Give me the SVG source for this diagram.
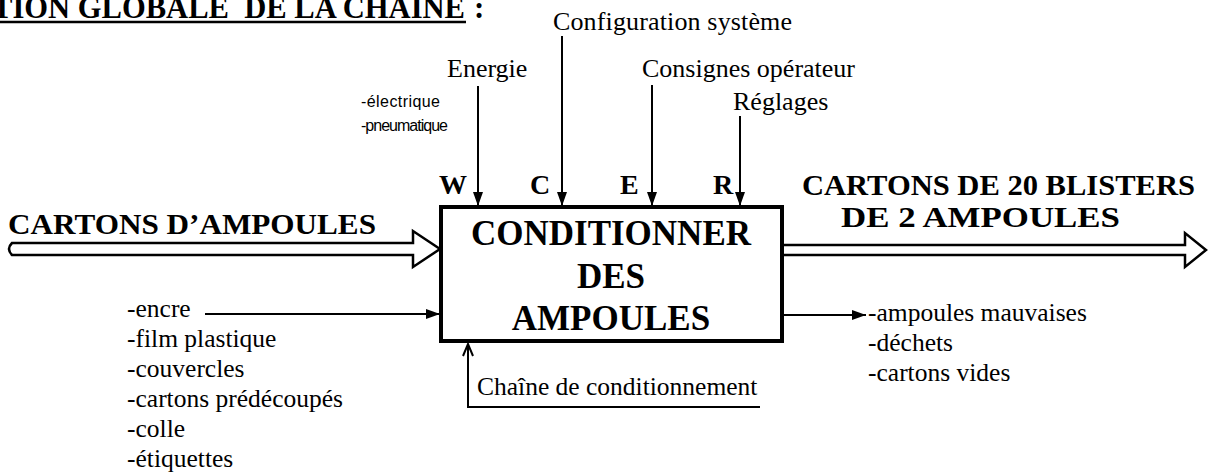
<svg xmlns="http://www.w3.org/2000/svg" width="1208" height="475" viewBox="0 0 1208 475">
<style>
.t{font-family:"Liberation Serif","Times New Roman",serif;font-size:26px;fill:#000}
.l{font-family:"Liberation Serif","Times New Roman",serif;font-size:25.5px;fill:#000}
.b{font-family:"Liberation Serif","Times New Roman",serif;font-weight:bold;fill:#000}
.s{font-family:"Liberation Sans",Arial,sans-serif;font-size:16px;fill:#000}
.ln{stroke:#000;stroke-width:2;fill:none}
.dbl{stroke:#000;stroke-width:2.5;fill:#fff;stroke-linejoin:miter}
</style>
<defs>
<marker id="ah" viewBox="0 0 14 10" refX="14" refY="5" markerWidth="14" markerHeight="10" markerUnits="userSpaceOnUse" orient="auto"><path d="M0,0 L14,5 L0,10 z" fill="#000"/></marker>
<marker id="oh" viewBox="0 0 14 12" refX="13" refY="6" markerWidth="14" markerHeight="12" markerUnits="userSpaceOnUse" orient="auto"><path d="M1,1 L13,6 L1,11" fill="none" stroke="#000" stroke-width="2"/></marker>
</defs>

<g id="title">
<text class="b" x="-8" y="18" font-size="31" textLength="473" lengthAdjust="spacingAndGlyphs" style="white-space:pre">TION GLOBALE  DE LA CHAINE</text>
<text class="b" x="474" y="18" font-size="31">:</text>
<line x1="0" y1="22" x2="466" y2="22" stroke="#000" stroke-width="2.5"/>
</g>

<g id="connectors">
<path class="dbl" d="M12,243 L413,243 L413,231 L440,249 L413,267 L413,255 L12,255 Q6,249 12,243 Z"/>
<path class="dbl" d="M784,245 L1185,245 L1185,233 L1206,250 L1185,267 L1185,255 L784,255"/>
<line class="ln" x1="478" y1="86" x2="478" y2="206" marker-end="url(#ah)"/>
<line class="ln" x1="562" y1="36" x2="562" y2="206" marker-end="url(#ah)"/>
<line class="ln" x1="652" y1="85" x2="652" y2="206" marker-end="url(#ah)"/>
<line class="ln" x1="740" y1="116" x2="740" y2="206" marker-end="url(#ah)"/>
<line class="ln" x1="205" y1="314" x2="440" y2="314" marker-end="url(#ah)"/>
<line class="ln" x1="784" y1="315" x2="866" y2="315" marker-end="url(#ah)"/>
<polyline class="ln" points="760,407 468,407 468,344" marker-end="url(#oh)"/>
</g>

<g id="box">
<rect x="441" y="207" width="341" height="134" fill="#fff" stroke="#000" stroke-width="4"/>
<text class="b" x="611" y="245" font-size="35" text-anchor="middle">CONDITIONNER</text>
<text class="b" x="611" y="288" font-size="35" text-anchor="middle">DES</text>
<text class="b" x="611" y="330" font-size="35" text-anchor="middle">AMPOULES</text>
</g>

<g id="controls">
<text class="t" x="553" y="30" textLength="239">Configuration système</text>
<text class="t" x="447" y="77">Energie</text>
<text class="t" x="642" y="77">Consignes opérateur</text>
<text class="t" x="733" y="110">Réglages</text>
<text class="s" x="361" y="107" textLength="79">-électrique</text>
<text class="s" x="361" y="131" textLength="87">-pneumatique</text>
<text class="b" x="439" y="194" font-size="28">W</text>
<text class="b" x="530" y="194" font-size="28">C</text>
<text class="b" x="620" y="194" font-size="28">E</text>
<text class="b" x="713" y="194" font-size="28">R</text>
</g>

<g id="input">
<text class="b" x="8" y="234" font-size="30" textLength="368" lengthAdjust="spacingAndGlyphs">CARTONS D’AMPOULES</text>
</g>

<g id="output">
<text class="b" x="802" y="195" font-size="30" textLength="393" lengthAdjust="spacingAndGlyphs">CARTONS DE 20 BLISTERS</text>
<text class="b" x="841" y="227" font-size="30" textLength="279" lengthAdjust="spacingAndGlyphs">DE 2 AMPOULES</text>
</g>

<g id="materials">
<text class="l" x="127" y="317">-encre</text>
<text class="l" x="127" y="347">-film plastique</text>
<text class="l" x="127" y="377">-couvercles</text>
<text class="l" x="127" y="407">-cartons prédécoupés</text>
<text class="l" x="127" y="437">-colle</text>
<text class="l" x="127" y="467">-étiquettes</text>
</g>

<g id="waste">
<text class="l" x="868" y="321">-ampoules mauvaises</text>
<text class="l" x="868" y="351">-déchets</text>
<text class="l" x="868" y="381">-cartons vides</text>
</g>

<g id="support">
<text class="l" x="477" y="395">Chaîne de conditionnement</text>
</g>
</svg>
